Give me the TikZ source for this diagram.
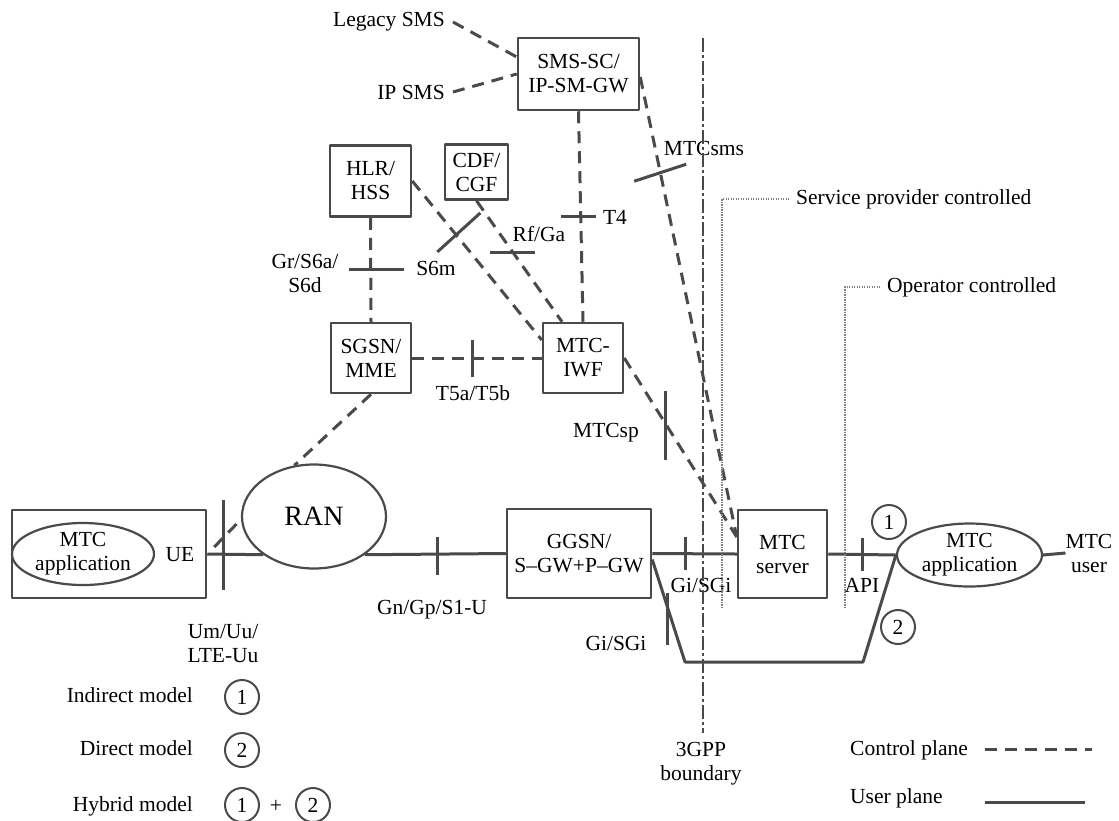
\documentclass[tikz,border=0pt]{standalone}
\usepackage{fontspec}
\setmainfont{Liberation Serif}
\usetikzlibrary{calc,shapes.geometric}

\definecolor{linegray}{HTML}{4A4A4A}

\begin{document}
\begin{tikzpicture}[x=1pt, y=-1pt, line join=round,
  font=\fontsize{21.5}{24}\selectfont,
  box/.style={draw=linegray, line width=2.5pt, align=center, inner sep=0pt},
  oval/.style={ellipse, draw=linegray, line width=2.2pt, align=center, inner sep=0pt},
  lbl/.style={inner sep=0pt, align=center},
  cplane/.style={linegray, line width=3pt, dash pattern=on 12pt off 8pt},
  uplane/.style={linegray, line width=3pt},
  tick/.style={linegray, line width=3pt},
  bound/.style={linegray, line width=2pt, dash pattern=on 14pt off 3pt on 3pt off 3pt},
  ctrl/.style={gray, line width=1.5pt, dash pattern=on 1.3pt off 1.2pt},
  model/.style={circle, draw=linegray, line width=2pt, minimum size=34pt, inner sep=0pt}
]

\useasboundingbox (0,0) rectangle (1119,820);

% ---------- Elementy sieci ----------
\node[box, minimum width=121pt, minimum height=72pt] (smsc) at (578.5,74) {SMS-SC/\\IP-SM-GW};
\node[box, minimum width=81pt, minimum height=71pt] (hlr) at (370.5,181) {HLR/\\HSS};
\node[box, minimum width=63pt, minimum height=55pt] (cdf) at (476.5,172) {CDF/\\CGF};
\node[box, minimum width=80pt, minimum height=70pt] (sgsn) at (371,358) {SGSN/\\MME};
\node[box, minimum width=80pt, minimum height=70pt] (iwf) at (583,358) {MTC-\\IWF};
\node[box, minimum width=194pt, minimum height=88pt] (ue) at (109,554) {};
\node[oval, minimum width=142pt, minimum height=62pt] (ueapp) at (83,554) {MTC\\application};
\node[lbl] (uelbl) at (180,555) {UE};
\node[oval, minimum width=144pt, minimum height=104pt, font=\fontsize{28}{32}\selectfont] (ran) at (314,516.5) {RAN};
\node[box, minimum width=144pt, minimum height=89pt] (ggsn) at (579,553.5) {GGSN/\\S--GW+P--GW};
\node[box, minimum width=89pt, minimum height=88pt] (server) at (782.5,554) {MTC\\server};
\node[oval, minimum width=145pt, minimum height=63pt] (mtcapp) at (969.5,555) {MTC\\application};
\node[lbl] (mtcuser) at (1089,553) {MTC\\user};

% ---------- Punkty pomocnicze ----------
\coordinate (smsout) at ([yshift=-3pt]smsc.east);
\coordinate (srvin) at ([yshift=17pt]server.west);
\coordinate (iwfin) at ([yshift=18pt]iwf.west);
\coordinate (iwftop) at ([xshift=-21pt]iwf.north);
\coordinate (ggsnout) at ([yshift=-6pt]ggsn.east);
\coordinate (dl) at (685,662);
\coordinate (dr) at (863,662);

% ---------- Zrodla SMS ----------
\node[lbl, anchor=east] (legacy) at (445,22) {Legacy SMS};
\node[lbl, anchor=east] (ipsms) at (445,92) {IP SMS};

% ---------- Plaszczyzna sterowania ----------
\draw[cplane] ([xshift=8pt]legacy.east) -- ([yshift=17pt]smsc.west);
\draw[cplane] ([xshift=8pt]ipsms.east) -- (smsc.west);
\draw[cplane] (smsc.south) -- (iwf.north);
\draw[cplane] (smsout) -- (srvin);
\draw[cplane] (hlr.south) -- (sgsn.north);
\draw[cplane] (hlr.east) -- (iwfin);
\draw[cplane] (cdf.south) -- (iwftop);
\draw[cplane] (sgsn.east) -- (iwf.west);
\draw[cplane] (iwf.east) -- (srvin);
\draw[cplane] (sgsn.south) -- (ran.111);
\draw[cplane] ([xshift=7pt,yshift=7pt]ue.east) -- ([yshift=-3pt]ran.west);

% ---------- Plaszczyzna uzytkownika ----------
\draw[uplane] (ue.east) -- (ran.217);
\draw[uplane] (ran.323) -- (ggsn.west);
\draw[uplane] (ggsn.east) -- (server.west);
\draw[uplane] (server.east) -- (mtcapp.west);
\draw[uplane] (mtcapp.east) -- (mtcuser.west);
% model bezposredni
\draw[uplane] (ggsnout) -- (dl) -- (dr) -- (mtcapp.west);

% ---------- Interfejsy (kreski) ----------
\draw[tick] ($(smsc.south)!0.5!(iwf.north)$) ++(-20,0) -- ++(35,0);
\draw[tick] ($(smsout)!0.207!(srvin)$) ++(-26,9) -- ++(52,-17);
\draw[tick] ($(iwf.east)!0.365!(srvin)$) ++(0,-32) -- ++(0,69);
\draw[tick] ($(hlr.south)!0.5!(sgsn.north)$) ++(-22,0) -- ++(55,0);
\draw[tick] ($(hlr.east)!0.339!(iwfin)$) ++(-18.8,17) -- ++(43,-39);
\draw[tick] ($(cdf.south)!0.427!(iwftop)$) ++(-23,0) -- ++(45,0);
\draw[tick] ($(sgsn.east)!0.462!(iwf.west)$) ++(0,-18) -- ++(0,37);
\draw[tick] ($(ue.east)!0.29!(ran.217)$) ++(0,-54) -- ++(0,90);
\draw[tick] ($(ran.323)!0.514!(ggsn.west)$) ++(0,-17) -- ++(0,38);
\draw[tick] ($(ggsn.east)!0.39!(server.west)$) ++(0,-17) -- ++(0,33);
\draw[tick] ($(server.east)!0.5!(mtcapp.west)$) ++(0,-17) -- ++(0,33);
\draw[tick] ($(ggsnout)!0.47!(dl)$) ++(0,-15) -- ++(0,52);

% ---------- Etykiety interfejsow ----------
\node[lbl] (t4) at (615,217) {T4};
\node[lbl] (mtcsms) at (704,148) {MTCsms};
\node[lbl] (mtcsp) at (606,433) {MTCsp};
\node[lbl] (gr) at (305,273) {Gr/S6a/\\S6d};
\node[lbl] (s6m) at (436,268) {S6m};
\node[lbl] (rfga) at (539,234) {Rf/Ga};
\node[lbl] (t5) at (473,393) {T5a/T5b};
\node[lbl] (um) at (223,644) {Um/Uu/\\LTE-Uu};
\node[lbl] (gn) at (432,610) {Gn/Gp/S1-U};
\node[lbl] (gi) at (701,585) {Gi/SGi};
\node[lbl] (api) at (862,585) {API};
\node[lbl] (gi2) at (616,643) {Gi/SGi};
\node[model] (c1) at (889,522) {1};
\node[model] (c2) at (898,627) {2};

% ---------- Granice ----------
\draw[bound] (703,38) -- (703,733);
\node[lbl] (gpp) at (701,764) {3GPP\\boundary};
\draw[ctrl] (722,608) -- (722,199) -- (790,199);
\node[lbl, anchor=west] (spc) at (796,199) {Service provider controlled};
\draw[ctrl] (845,608) -- (845,287) -- (880,287);
\node[lbl, anchor=west] (opc) at (887,287) {Operator controlled};

% ---------- Legenda ----------
\node[lbl, anchor=east] (indirect) at (193,695) {Indirect model};
\node[model] (m1) at (242,697) {1};
\node[lbl, anchor=east] (direct) at (193,748) {Direct model};
\node[model] (m2) at (242,750) {2};
\node[lbl, anchor=east] (hybrid) at (193,806) {Hybrid model};
\node[model] (m3) at (242,805) {1};
\node[lbl] (plus) at (276,806) {+};
\node[model] (m4) at (313,805) {2};

\node[lbl, anchor=west] (cplbl) at (850,750) {Control plane};
\coordinate (cpa) at (985,749);
\coordinate (cpb) at (1092,749);
\draw[cplane] (cpa) -- (cpb);
\node[lbl, anchor=west] (uplbl) at (850,798) {User plane};
\coordinate (upa) at (985,802);
\coordinate (upb) at (1085,802);
\draw[uplane] (upa) -- (upb);

\end{tikzpicture}
\end{document}
